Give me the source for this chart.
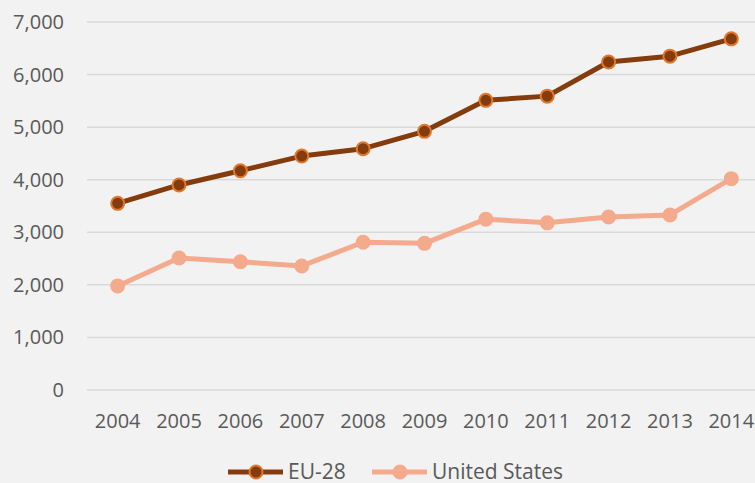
<!DOCTYPE html>
<html>
<head>
<meta charset="utf-8">
<script src="https://cdn.jsdelivr.net/npm/d3@7"></script>
<style>
  body { margin: 0; background: #f2f2f2; }
  svg { display: block; }
</style>
</head>
<body>
<div id="chart"></div>
<script>
const years = ['2004', '2005', '2006', '2007', '2008', '2009', '2010', '2011', '2012', '2013', '2014']
const eu28 = [3550, 3900, 4170, 4450, 4590, 4920, 5510, 5590, 6240, 6350, 6680]
const usa = [1980, 2510, 2440, 2360, 2810, 2790, 3250, 3180, 3290, 3330, 4020]
const yTicks = [0, 1000, 2000, 3000, 4000, 5000, 6000, 7000]

const width = 755
const height = 483
const margin = { top: 22, left: 87, right: -7, bottom: 93 }

const svg = d3
  .select('#chart')
  .append('svg')
  .attr('width', width)
  .attr('height', height)
  .style('font-family', "'Open Sans', sans-serif")

svg.append('rect').attr('width', width).attr('height', height).attr('fill', '#f2f2f2')

const xScale = d3
  .scalePoint()
  .domain(years)
  .range([margin.left, width - margin.right])
  .padding(0.5)

const yScale = d3
  .scaleLinear()
  .domain([0, 7000])
  .range([height - margin.bottom, margin.top])

// gridlines
svg
  .append('g')
  .selectAll('line')
  .data(yTicks)
  .enter()
  .append('line')
  .attr('x1', margin.left)
  .attr('x2', width)
  .attr('y1', d => yScale(d))
  .attr('y2', d => yScale(d))
  .attr('stroke', '#d9d9d9')
  .attr('stroke-width', 1.5)

// y labels
svg
  .append('g')
  .selectAll('text')
  .data(yTicks)
  .enter()
  .append('text')
  .text(d3.format(','))
  .attr('x', 64)
  .attr('y', d => yScale(d))
  .attr('dy', '0.35em')
  .attr('text-anchor', 'end')
  .attr('fill', '#595959')
  .style('font-size', '20px')

// x labels
svg
  .append('g')
  .selectAll('text')
  .data(years)
  .enter()
  .append('text')
  .text(d => d)
  .attr('x', d => xScale(d))
  .attr('y', 421)
  .attr('dy', '0.35em')
  .attr('text-anchor', 'middle')
  .attr('fill', '#595959')
  .style('font-size', '20px')

const series = [
  { name: 'EU-28', values: eu28, color: '#843c0c', marker: '#843c0c', markerStroke: '#e0782e' },
  { name: 'United States', values: usa, color: '#f4aa8c', marker: '#f4aa8c', markerStroke: '#f4aa8c' }
]

const line = d3
  .line()
  .x((d, i) => xScale(years[i]))
  .y(d => yScale(d))

series.forEach(s => {
  svg
    .append('path')
    .datum(s.values)
    .attr('d', line)
    .attr('fill', 'none')
    .attr('stroke', s.color)
    .attr('stroke-width', 5)
    .attr('stroke-linejoin', 'round')

  svg
    .append('g')
    .selectAll('circle')
    .data(s.values)
    .enter()
    .append('circle')
    .attr('cx', (d, i) => xScale(years[i]))
    .attr('cy', d => yScale(d))
    .attr('r', 6.5)
    .attr('fill', s.marker)
    .attr('stroke', s.markerStroke)
    .attr('stroke-width', 2)
})

// legend
const legendX = [228, 372]
series.forEach((s, i) => {
  const g = svg.append('g').attr('transform', 'translate(' + legendX[i] + ',472)')
  g.append('line')
    .attr('x1', 0)
    .attr('x2', 55)
    .attr('stroke', s.color)
    .attr('stroke-width', 5)
  g.append('circle')
    .attr('cx', 28)
    .attr('r', 6.5)
    .attr('fill', s.marker)
    .attr('stroke', s.markerStroke)
    .attr('stroke-width', 2)
  g.append('text')
    .text(s.name)
    .attr('x', 60)
    .attr('dy', '0.35em')
    .attr('fill', '#595959')
    .style('font-size', '21px')
})
</script>
</body>
</html>
